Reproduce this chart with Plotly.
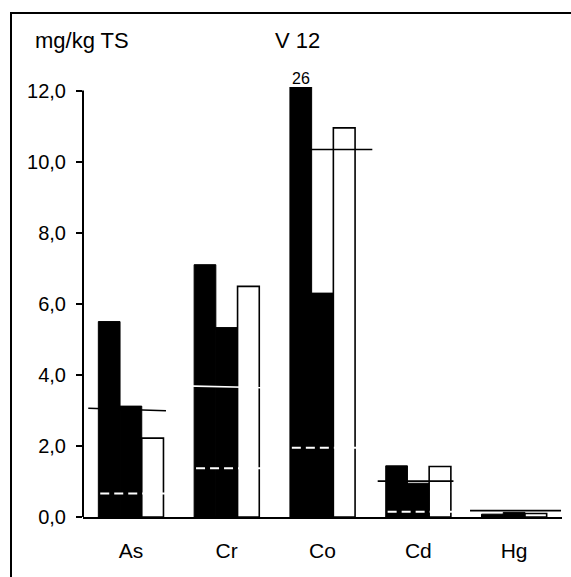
import plotly.graph_objects as go

# ---------------- data ----------------
categories = ["As", "Cr", "Co", "Cd", "Hg"]
bar_black_1 = [5.50, 7.10, 26.0, 1.44, 0.08]
bar_black_2 = [3.12, 5.33, 6.30, 0.95, 0.13]
bar_white_3 = [2.22, 6.49, 10.95, 1.42, 0.10]
guide_left = [3.06, 3.69, 10.34, 1.01, 0.18]
guide_right = [2.99, 3.64, 10.34, 1.01, 0.18]
dashed_vals = [0.66, 1.37, 1.95, 0.15, None]
y_tick_vals = [0, 2, 4, 6, 8, 10, 12]
y_tick_text = ["0,0", "2,0", "4,0", "6,0", "8,0", "10,0", "12,0"]
unit_label = "mg/kg TS"
title_label = "V 12"
clipped_label = "26"

# ---------------- layout constants ----------------
W, H = 571, 577
L, R, T, B = 83, 9, 87, 60
PW, PH = W - L - R, H - T - B
Y_MAX = 12.1
FONT = "Liberation Sans, Arial, sans-serif"

guide_colors = ["black", "white", "black", "black", "black"]
guide_x0 = [-0.445, -0.445, -0.30, -0.424, -0.46]
guide_x1 = [0.366, 0.37, 0.52, 0.367, 0.49]
dash_x0, dash_x1 = -0.32, 0.37

def px(x):
    return (x - L) / PW

def py(y):
    return 1 - (y - T) / PH

xs = list(range(len(categories)))

fig = go.Figure()
fig.add_bar(x=xs, y=bar_black_1, marker=dict(color="black", line=dict(color="black", width=1)),
            showlegend=False, cliponaxis=True)
fig.add_bar(x=xs, y=bar_black_2, marker=dict(color="black", line=dict(color="black", width=1)),
            showlegend=False, cliponaxis=True)
fig.add_bar(x=xs, y=bar_white_3, marker=dict(color="white", line=dict(color="black", width=1.6)),
            showlegend=False, cliponaxis=True)

for i in xs:
    fig.add_scatter(x=[i + guide_x0[i], i + guide_x1[i]], y=[guide_left[i], guide_right[i]],
                    mode="lines", line=dict(color=guide_colors[i], width=1.6),
                    showlegend=False, hoverinfo="skip")
    if dashed_vals[i] is not None:
        fig.add_scatter(x=[i + dash_x0, i + dash_x1], y=[dashed_vals[i], dashed_vals[i]],
                        mode="lines", line=dict(color="white", width=2, dash="9px,5px"),
                        showlegend=False, hoverinfo="skip")

bar_w = (1 - 0.32) / 3
fig.add_annotation(x=2 - bar_w, y=Y_MAX, text=clipped_label, showarrow=False,
                   yanchor="bottom", xanchor="center", yshift=-2,
                   font=dict(family=FONT, size=16, color="black"))
fig.add_annotation(xref="paper", yref="paper", x=px(33), y=py(41), text=unit_label,
                   showarrow=False, xanchor="left", yanchor="middle",
                   font=dict(family=FONT, size=22, color="black"))
fig.add_annotation(xref="paper", yref="paper", x=px(273), y=py(41), text=title_label,
                   showarrow=False, xanchor="left", yanchor="middle",
                   font=dict(family=FONT, size=22, color="black"))

# frame
fig.add_shape(type="rect", xref="paper", yref="paper", x0=px(11), x1=px(576),
              y0=py(590), y1=py(13), line=dict(color="black", width=2), layer="above")
# y axis line (stops at 12,0)
fig.add_shape(type="line", xref="paper", yref="y", x0=0, x1=0, y0=0, y1=12,
              line=dict(color="black", width=2), layer="above")

fig.update_layout(
    width=W, height=H,
    margin=dict(l=L, r=R, t=T, b=B),
    paper_bgcolor="white", plot_bgcolor="white",
    barmode="group", bargap=0.32, bargroupgap=0,
    font=dict(family=FONT, size=20, color="black"),
    showlegend=False,
)
fig.update_xaxes(range=[-0.5, len(categories) - 0.5], tickvals=xs, ticktext=categories,
                 showline=True, linecolor="black", linewidth=2, showgrid=False,
                 zeroline=False, ticks="", ticklabelstandoff=14,
                 tickfont=dict(family=FONT, size=21, color="black"))
fig.update_yaxes(range=[0, Y_MAX], tickvals=y_tick_vals, ticktext=y_tick_text,
                 showline=False, showgrid=False, zeroline=False,
                 ticks="outside", ticklen=6, tickwidth=2, tickcolor="black",
                 ticklabelstandoff=6,
                 tickfont=dict(family=FONT, size=20, color="black"))

fig.write_html("out.html")
